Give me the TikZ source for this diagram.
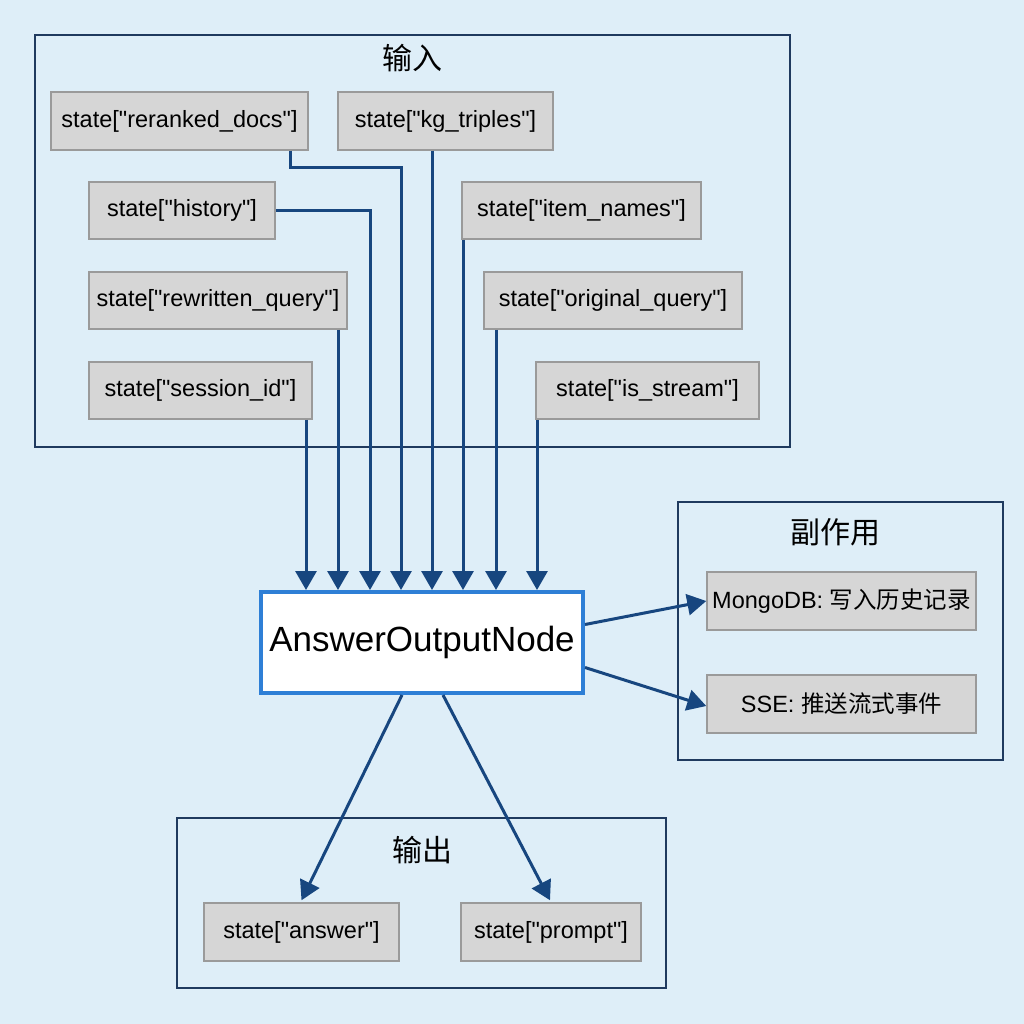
\documentclass[tikz,border=0pt]{standalone}
\usepackage{fontspec}
\setmainfont{Liberation Sans}
\newfontfamily\cjk{Noto Sans CJK SC}
\usetikzlibrary{arrows.meta,calc}
\definecolor{bgc}{HTML}{DEEEF8}
\definecolor{navy}{HTML}{1F3A5F}
\definecolor{arrc}{HTML}{17467F}
\definecolor{boxf}{HTML}{D6D6D6}
\definecolor{boxd}{HTML}{9A9A9A}
\definecolor{aob}{HTML}{2E7FD6}
\newcommand\dq{\textquotedbl}
\tikzset{
  cont/.style={draw=navy, line width=1.5pt},
  sbox/.style={draw=boxd, fill=boxf, line width=1.5pt, inner sep=0pt, font=\fontsize{23.5}{27}\selectfont, minimum height=58pt},
  ttl/.style={font=\cjk\fontsize{30}{35}\selectfont, inner sep=0pt},
  arr/.style={draw=arrc, line width=3pt, -{Triangle[length=19pt,width=21pt]}},
}
\begin{document}
\begin{tikzpicture}[x=1pt,y=-1pt]
\useasboundingbox[fill=bgc] (0,0) rectangle (1024,1024);
% containers
\draw[cont] (35,35) rectangle (790,447);
\draw[cont] (678,502) rectangle (1003,760);
\draw[cont] (177,818) rectangle (666,988);
\node[ttl] (tin) at (412,58) {输入};
\node[ttl] (tse) at (835,532) {副作用};
\node[ttl] (tout) at (422,850) {输出};
% input boxes
\node[sbox, minimum width=257pt] (rd) at (179.5,121) {state[\dq reranked\_docs\dq]};
\node[sbox, minimum width=215pt] (kg) at (445.5,121) {state[\dq kg\_triples\dq]};
\node[sbox, minimum width=186pt, minimum height=57pt] (hi) at (182,210.5) {state[\dq history\dq]};
\node[sbox, minimum width=239pt, minimum height=57pt] (it) at (581.5,210.5) {state[\dq item\_names\dq]};
\node[sbox, minimum width=258pt, minimum height=57pt] (rq) at (218,300.5) {state[\dq rewritten\_query\dq]};
\node[sbox, minimum width=258pt, minimum height=57pt] (oq) at (613,300.5) {state[\dq original\_query\dq]};
\node[sbox, minimum width=223pt, minimum height=57pt] (si) at (200.5,390.5) {state[\dq session\_id\dq]};
\node[sbox, minimum width=223pt, minimum height=57pt] (is) at (647.5,390.5) {state[\dq is\_stream\dq]};
% main node
\node[draw=aob, fill=white, line width=4pt, minimum width=322pt, minimum height=101pt, inner sep=0pt, font=\fontsize{35}{40}\selectfont] (ao) at (422,642.5) {AnswerOutputNode};
% side effects
\node[sbox, minimum width=269pt] (mg) at (841.5,601) {MongoDB: {\cjk 写入历史记录}};
\node[sbox, minimum width=269pt] (sse) at (841.5,704) {SSE: {\cjk 推送流式事件}};
% outputs
\node[sbox, minimum width=195pt] (an) at (301.5,932) {state[\dq answer\dq]};
\node[sbox, minimum width=180pt] (pr) at (551,932) {state[\dq prompt\dq]};
% input arrows
\draw[arr] ([xshift=-116pt]ao.north |- si.south) -- ([xshift=-116pt]ao.north);
\draw[arr] ([xshift=-84pt]ao.north |- rq.south) -- ([xshift=-84pt]ao.north);
\draw[arr] (hi.east) -| ([xshift=-52pt]ao.north);
\draw[arr] ([xshift=-18pt]rd.south east) -- ++(0,17) -| ([xshift=-21pt]ao.north);
\draw[arr] ([xshift=10pt]ao.north |- kg.south) -- ([xshift=10pt]ao.north);
\draw[arr] ([xshift=41pt]ao.north |- it.south) -- ([xshift=41pt]ao.north);
\draw[arr] ([xshift=74pt]ao.north |- oq.south) -- ([xshift=74pt]ao.north);
\draw[arr] ([xshift=115pt]ao.north |- is.south) -- ([xshift=115pt]ao.north);
% side-effect arrows
\draw[arr] ([yshift=18pt]ao.east) -- (mg.west);
\draw[arr] ([yshift=-25pt]ao.east) -- ([yshift=-2pt]sse.west);
% output arrows
\draw[arr] ([xshift=-20pt]ao.south) -- ([yshift=2pt]an.north);
\draw[arr] ([xshift=21pt]ao.south) -- ([xshift=-1pt,yshift=2pt]pr.north);
\end{tikzpicture}
\end{document}
